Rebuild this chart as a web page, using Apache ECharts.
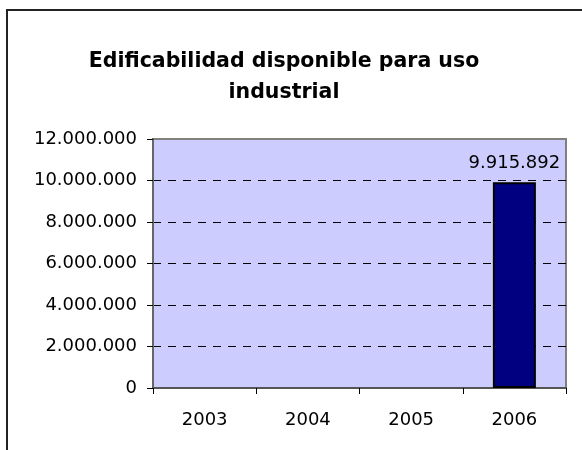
<!DOCTYPE html>
<html>
<head>
<meta charset="utf-8">
<script src="https://cdn.jsdelivr.net/npm/echarts@6/dist/echarts.min.js"></script>
<style>
  html, body { margin: 0; padding: 0; background: #ffffff; }
  #chart { width: 582px; height: 450px; }
</style>
</head>
<body>
<div id="chart"></div>
<script>
// Buildable floor area available for industrial use, by year
const years = ['2003', '2004', '2005', '2006'];
const values = [0, 0, 0, 9915892];
const yTicks = [0, 2000000, 4000000, 6000000, 8000000, 10000000, 12000000];

// Spanish-style thousands separator
function fmt(v) {
  return String(Math.round(v)).replace(/\B(?=(\d{3})+(?!\d))/g, '.');
}

const font = 'DejaVu Sans';
const chart = echarts.init(document.getElementById('chart'), null, { renderer: 'canvas' });

chart.setOption({
  animation: false,
  backgroundColor: '#ffffff',
  title: {
    text: 'Edificabilidad disponible para uso\nindustrial',
    left: 279,
    top: 41,
    textAlign: 'center',
    textStyle: {
      fontFamily: font,
      fontWeight: 'bold',
      fontSize: 20.5,
      lineHeight: 31,
      color: '#000000'
    }
  },
  graphic: [{
    type: 'rect',
    shape: { x: 7, y: 10, width: 700, height: 600 },
    style: { fill: 'none', stroke: '#222222', lineWidth: 2 },
    silent: true,
    z: 100
  }],
  grid: {
    left: 153,
    top: 139,
    width: 413,
    height: 249,
    show: true,
    backgroundColor: '#CCCCFF',
    borderColor: '#808080',
    borderWidth: 2
  },
  xAxis: {
    type: 'category',
    data: years,
    boundaryGap: true,
    axisLine: { show: true, lineStyle: { color: '#555555', width: 2 } },
    axisTick: { show: true, alignWithLabel: false, length: 6, lineStyle: { color: '#000000', width: 1 } },
    axisLabel: { interval: 0, margin: 23, fontFamily: font, fontSize: 18, color: '#000000' },
    splitLine: { show: false }
  },
  yAxis: {
    type: 'value',
    min: yTicks[0],
    max: yTicks[yTicks.length - 1],
    interval: yTicks[1] - yTicks[0],
    axisLine: { show: true, lineStyle: { color: '#666666', width: 2 } },
    axisTick: { show: true, length: 6, lineStyle: { color: '#000000', width: 1 } },
    axisLabel: { margin: 16, fontFamily: font, fontSize: 18, color: '#000000', formatter: fmt },
    splitLine: {
      show: true,
      showMinLine: false,
      showMaxLine: false,
      lineStyle: { color: '#000000', width: 1, type: [8, 7] }
    }
  },
  series: [{
    type: 'bar',
    data: values.map(v => (v === 0 ? null : v)),
    barWidth: 43,
    itemStyle: { color: '#000080', borderColor: '#000000', borderWidth: 2 },
    label: {
      show: true,
      position: 'top',
      distance: 10,
      fontFamily: font,
      fontSize: 18,
      color: '#000000',
      formatter: p => fmt(p.value)
    }
  }]
});
</script>
</body>
</html>
